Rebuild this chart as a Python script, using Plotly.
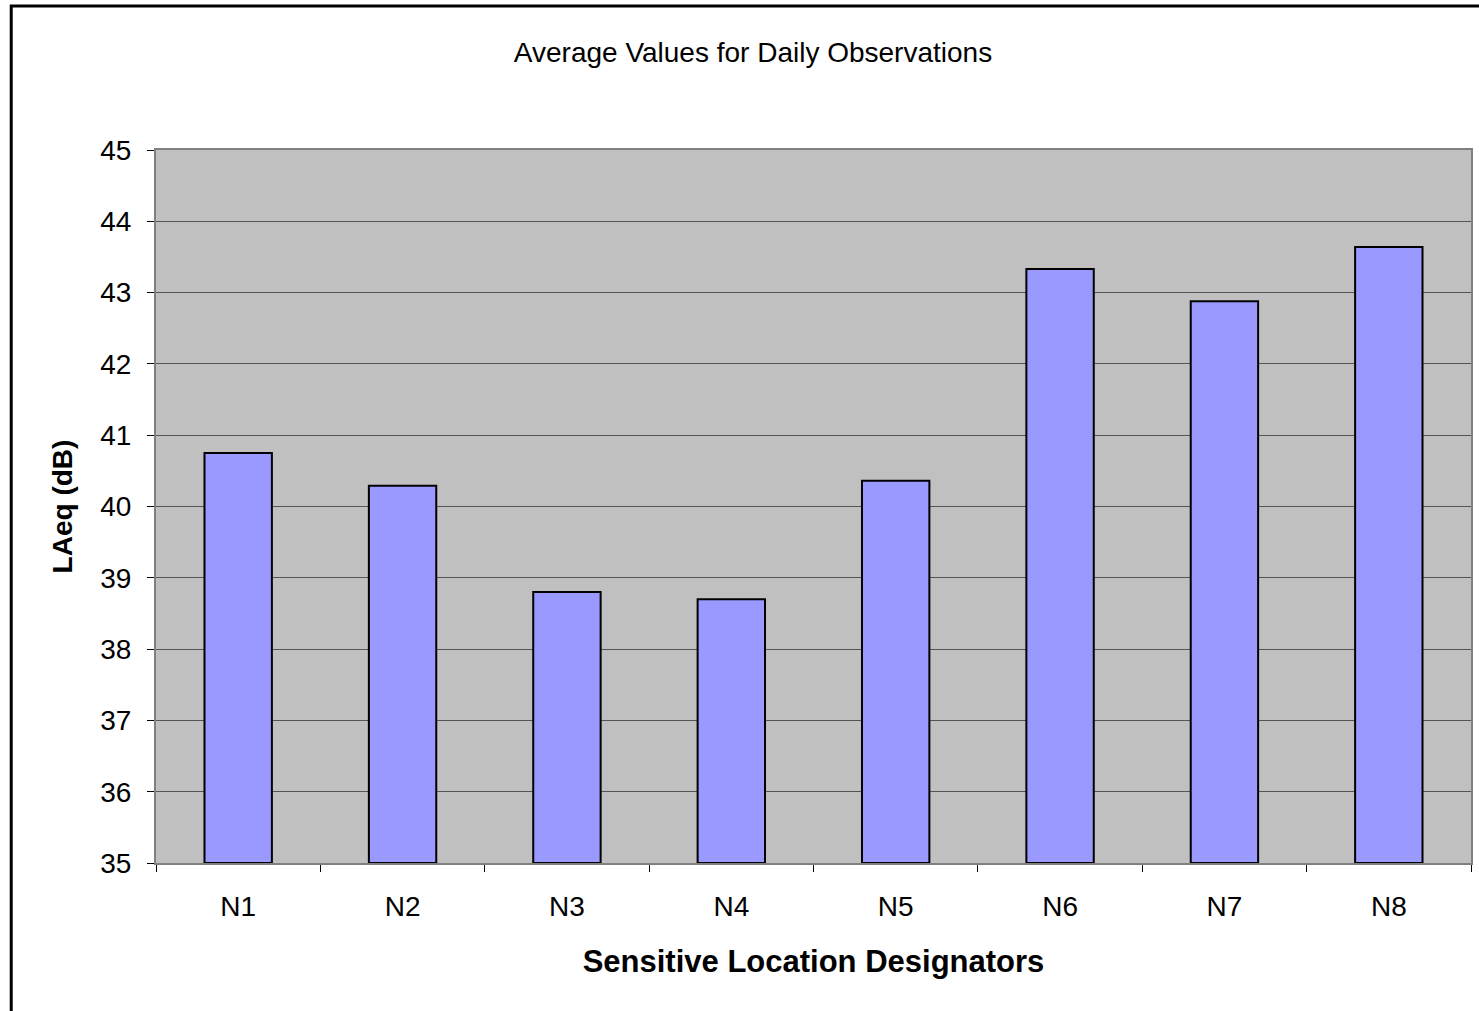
import plotly.graph_objects as go

categories = ["N1", "N2", "N3", "N4", "N5", "N6", "N7", "N8"]
values = [40.75, 40.29, 38.80, 38.70, 40.36, 43.33, 42.88, 43.64]
y_ticks = [35, 36, 37, 38, 39, 40, 41, 42, 43, 44, 45]
base_value = 35

W, H = 1479, 1011
L, R, T, B = 156, 6, 150, 148
pw, ph = W - L - R, H - T - B

fig = go.Figure()
fig.add_trace(go.Bar(
    x=categories, y=[v - base_value for v in values], base=base_value,
    marker=dict(color="#9999FF", line=dict(color="black", width=2)),
    width=0.41,
))

font = "Liberation Sans, Arial, sans-serif"
fig.update_layout(
    width=W, height=H,
    margin=dict(l=L, r=R, t=T, b=B),
    paper_bgcolor="white", plot_bgcolor="#C0C0C0",
    showlegend=False,
    font=dict(family=font, color="black", size=28),
    title=dict(text="Average Values for Daily Observations", x=753 / W, xanchor="center",
               y=1 - 52 / H, yanchor="middle", font=dict(size=28)),
)
fig.update_xaxes(
    type="category", range=[-0.5, 7.5],
    showgrid=False, ticks="outside", ticklen=7, tickcolor="black",
    showline=True, linecolor="#808080", linewidth=2, mirror=True,
    tickson="boundaries", ticklabelstandoff=17,
    title=dict(text="<b>Sensitive Location Designators</b>", font=dict(size=31), standoff=30),
    tickfont=dict(size=28),
)
fig.update_yaxes(
    range=[35, 45], tickvals=y_ticks, ticktext=[str(t) for t in y_ticks],
    showgrid=True, gridcolor="#555555", gridwidth=1,
    ticks="outside", ticklen=7, tickcolor="black",
    showline=True, linecolor="#808080", linewidth=2, mirror=True,
    zeroline=False, ticklabelstandoff=10,
    title=dict(text="<b>LAeq (dB)</b>", font=dict(size=28), standoff=19),
    tickfont=dict(size=28),
)
# outer chart frame
fig.add_shape(type="rect", xref="paper", yref="paper",
              x0=(11 - L) / pw, x1=(1520 - L) / pw,
              y0=(H - B - 1040) / ph, y1=(H - B - 6) / ph,
              line=dict(color="black", width=3), fillcolor="rgba(0,0,0,0)", layer="above")

fig.write_html("out.html", config={"displayModeBar": False},
               post_script="document.body.style.margin='0';document.body.style.padding='0';")
